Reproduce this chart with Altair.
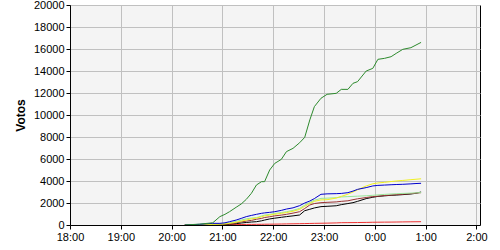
import altair as alt
import pandas as pd

# hours after 18:00
times = [2.26, 2.55, 2.81, 2.95, 3.05, 3.14, 3.27, 3.37, 3.47, 3.57, 3.67, 3.77, 3.83,
         3.93, 4.03, 4.16, 4.26, 4.39, 4.52, 4.62, 4.72, 4.81, 4.94, 5.06, 5.24, 5.34,
         5.47, 5.57, 5.66, 5.83, 5.96, 6.06, 6.19, 6.32, 6.42, 6.55, 6.71, 6.81, 6.91]

green = [0, 80, 200, 760, 970, 1210, 1610, 1910, 2330, 2880, 3640, 3940, 3940,
         5000, 5600, 5970, 6670, 6970, 7480, 7970, 9550, 10760, 11520, 11880, 11970, 12330,
         12330, 12880, 13030, 14000, 14240, 15060, 15150, 15300, 15600, 15970, 16120, 16360, 16600]

blue = [0, 60, 150, 150, 200, 300, 450, 600, 760, 870, 970, 1060, 1100,
        1150, 1210, 1330, 1450, 1560, 1760, 2000, 2180, 2400, 2790, 2830, 2850, 2870,
        2940, 3080, 3240, 3400, 3550, 3600, 3630, 3660, 3680, 3700, 3740, 3770, 3790]

yellow = [0, 30, 60, 80, 100, 150, 250, 350, 450, 560, 630, 750, 830,
          900, 980, 1060, 1130, 1250, 1420, 1700, 1950, 2150, 2280, 2300, 2450, 2600,
          2800, 3000, 3200, 3550, 3750, 3820, 3880, 3950, 4000, 4050, 4120, 4160, 4200]

palegreen = [0, 40, 80, 100, 130, 200, 330, 450, 560, 630, 670, 820, 900,
             970, 1050, 1130, 1210, 1330, 1510, 1800, 2060, 2250, 2420, 2440, 2480, 2550,
             2580, 2600, 2620, 2660, 2700, 2740, 2780, 2820, 2840, 2870, 2900, 2920, 2950]

brown = [0, 20, 40, 60, 80, 120, 200, 280, 350, 420, 520, 600, 680,
         750, 830, 900, 970, 1080, 1210, 1500, 1820, 1950, 2030, 2060, 2100, 2150,
         2200, 2300, 2380, 2500, 2580, 2620, 2680, 2720, 2760, 2800, 2850, 2900, 2940]

black = [0, 10, 20, 40, 60, 80, 120, 180, 230, 270, 300, 380, 450,
         550, 620, 700, 760, 830, 910, 1300, 1430, 1550, 1670, 1700, 1750, 1850,
         1950, 2030, 2150, 2400, 2520, 2600, 2650, 2700, 2720, 2760, 2820, 2880, 3000]

red = [0, 5, 20, 25, 30, 35, 40, 45, 50, 55, 60, 65, 70,
       75, 80, 90, 100, 110, 120, 130, 140, 150, 160, 170, 190, 210,
       215, 220, 225, 235, 250, 255, 260, 265, 270, 280, 290, 295, 300]

series_names = ["red", "black", "brown", "palegreen", "yellow", "blue", "green"]
series_values = [red, black, brown, palegreen, yellow, blue, green]
series_colors = ["#ee3333", "#000000", "#993333", "#99e699", "#f0f020", "#0000cc", "#2d8a2d"]

hour_labels = ["18:00", "19:00", "20:00", "21:00", "22:00", "23:00", "0:00", "1:00", "2:00"]
y_ticks = list(range(0, 20001, 2000))

rows = []
for i, (name, vals) in enumerate(zip(series_names, series_values)):
    for t, v in zip(times, vals):
        rows.append({"serie": name, "order": i, "t": t, "v": v})
df = pd.DataFrame(rows)

label_expr = "[" + ",".join("'%s'" % s for s in hour_labels) + "][datum.value]"

chart = alt.Chart(df).mark_line(strokeWidth=1, clip=True).encode(
    x=alt.X("t:Q",
            scale=alt.Scale(domain=[0, 8.07], nice=False, zero=False),
            axis=alt.Axis(values=list(range(len(hour_labels))), labelExpr=label_expr,
                          title=None, tickSize=4, labelPadding=2, labelFlush=False)),
    y=alt.Y("v:Q",
            scale=alt.Scale(domain=[0, 20000], nice=False),
            axis=alt.Axis(values=y_ticks, format="d", title="Votos", tickSize=4, labelPadding=2,
                          titlePadding=6, titleFontWeight="bold", titleFontSize=12)),
    color=alt.Color("serie:N", scale=alt.Scale(domain=series_names, range=series_colors), legend=None),
    detail="serie:N",
    order=alt.Order("order:Q"),
).properties(
    width=410, height=220,
    autosize=alt.AutoSizeParams(type="none"),
    padding={"left": 70, "top": 5, "right": 20, "bottom": 25},
    background="white",
).configure_view(
    fill="#f4f4f4", stroke="#000000", strokeWidth=1
).configure_axis(
    domainColor="#000000", tickColor="#000000", gridColor="#c0c0c0", grid=True,
    labelFont="Liberation Sans", titleFont="Liberation Sans", labelFontSize=11,
    labelColor="#000000", titleColor="#000000", gridOpacity=1
)

chart.save("out.html", embed_options={"renderer": "svg", "actions": False})
